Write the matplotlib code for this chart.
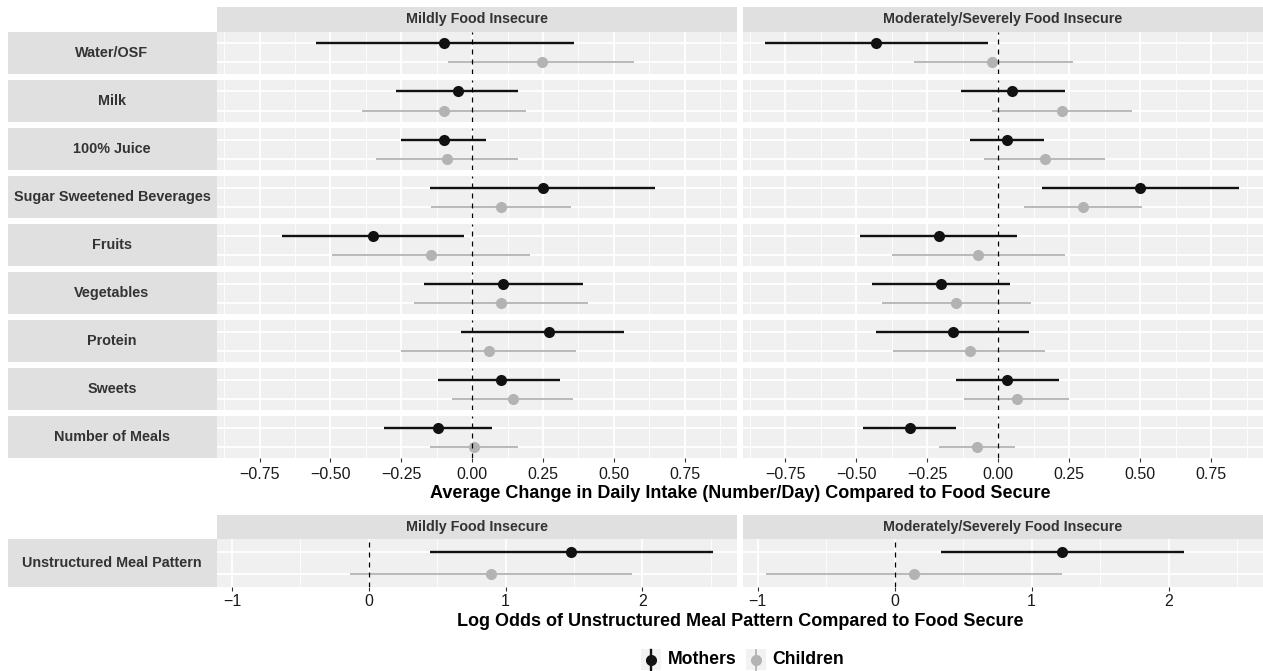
import numpy as np
import matplotlib.pyplot as plt
from matplotlib.patches import Rectangle

plt.rcParams['font.family'] = ['Liberation Sans', 'DejaVu Sans']

# data
foods = ['Water/OSF', 'Milk', '100% Juice', 'Sugar Sweetened Beverages', 'Fruits',
         'Vegetables', 'Protein', 'Sweets', 'Number of Meals']
groups = ['Mildly Food Insecure', 'Moderately/Severely Food Insecure']
who = ['Mothers', 'Children']

mild_mothers_est = [-0.10, -0.05, -0.10, 0.25, -0.35, 0.11, 0.27, 0.10, -0.12]
mild_mothers_lo = [-0.55, -0.27, -0.25, -0.15, -0.67, -0.17, -0.04, -0.12, -0.31]
mild_mothers_hi = [0.36, 0.16, 0.05, 0.645, -0.03, 0.39, 0.535, 0.31, 0.07]
mild_children_est = [0.245, -0.10, -0.09, 0.10, -0.145, 0.10, 0.06, 0.145, 0.005]
mild_children_lo = [-0.085, -0.39, -0.34, -0.145, -0.495, -0.205, -0.25, -0.07, -0.15]
mild_children_hi = [0.57, 0.19, 0.16, 0.35, 0.205, 0.41, 0.365, 0.355, 0.16]

sev_mothers_est = [-0.43, 0.05, 0.03, 0.50, -0.21, -0.20, -0.16, 0.03, -0.31]
sev_mothers_lo = [-0.82, -0.13, -0.10, 0.155, -0.485, -0.445, -0.43, -0.15, -0.475]
sev_mothers_hi = [-0.035, 0.235, 0.16, 0.85, 0.065, 0.04, 0.11, 0.215, -0.15]
sev_children_est = [-0.02, 0.225, 0.165, 0.30, -0.07, -0.15, -0.10, 0.065, -0.075]
sev_children_lo = [-0.295, -0.02, -0.05, 0.09, -0.375, -0.41, -0.37, -0.12, -0.21]
sev_children_hi = [0.265, 0.47, 0.375, 0.505, 0.235, 0.115, 0.165, 0.25, 0.06]

meal_label = 'Unstructured Meal Pattern'
meal_mothers_est = [1.48, 1.225]
meal_mothers_lo = [0.45, 0.335]
meal_mothers_hi = [2.52, 2.115]
meal_children_est = [0.895, 0.14]
meal_children_lo = [-0.135, -0.94]
meal_children_hi = [1.925, 1.22]

top_ticks = [-0.75, -0.50, -0.25, 0.00, 0.25, 0.50, 0.75]
top_minor = [-0.875, -0.625, -0.375, -0.125, 0.125, 0.375, 0.625, 0.875]
bot_ticks = [-1, 0, 1, 2]
bot_minor = [-0.5, 0.5, 1.5, 2.5]

# style
W, H = 1263, 671
PANEL = '#F0F0F0'
STRIP = '#E0E0E0'
COLS = {'Mothers': '#111111', 'Children': '#B3B3B3'}
LW = {'Mothers': 1.7, 'Children': 1.3}

fig = plt.figure(figsize=(W / 100, H / 100), dpi=100)
over = fig.add_axes([0, 0, 1, 1])
over.set_xlim(0, W)
over.set_ylim(H, 0)
over.axis('off')


def box(x0, y0, x1, y1):
    return [x0 / W, 1 - y1 / H, (x1 - x0) / W, (y1 - y0) / H]


def panel(rect, xlim, ticks, minor, m, c, show_ticks, pad=3.5):
    ax = fig.add_axes(box(*rect))
    ax.set_facecolor(PANEL)
    for s in ax.spines.values():
        s.set_visible(False)
    ax.set_xlim(*xlim)
    ax.set_ylim(0.4, 2.6)
    ax.set_xticks(ticks)
    ax.set_xticks(minor, minor=True)
    ax.set_yticks([1, 2])
    ax.grid(True, which='major', color='white', lw=1.3)
    ax.grid(True, which='minor', axis='x', color='white', lw=0.6)
    ax.set_axisbelow(True)
    ax.tick_params(axis='y', length=0, labelleft=False)
    ax.tick_params(axis='x', which='minor', length=0)
    if show_ticks:
        ax.tick_params(axis='x', which='major', length=3, width=0.8, color='#333333',
                       labelsize=11.5, labelcolor='#1a1a1a', pad=pad)
    else:
        ax.tick_params(axis='x', which='major', length=0, labelbottom=False)
    for name, (est, lo, hi), yy in [('Mothers', m, 2), ('Children', c, 1)]:
        ax.plot([lo, hi], [yy, yy], color=COLS[name], lw=LW[name], solid_capstyle='butt', zorder=2)
        ax.plot([est], [yy], 'o', color=COLS[name], ms=8, mec='none', zorder=3)
    ax.axvline(0, color='black', lw=0.9, ls=(0, (4, 4)), zorder=4)
    return ax


cols_x = [(217, 736.7), (742.7, 1263)]
top_data = [
    (mild_mothers_est, mild_mothers_lo, mild_mothers_hi,
     mild_children_est, mild_children_lo, mild_children_hi),
    (sev_mothers_est, sev_mothers_lo, sev_mothers_hi,
     sev_children_est, sev_children_lo, sev_children_hi),
]
top_xlim = (-0.90, 0.933)
bot_xlim = (-1.11, 2.69)

# column strips (top block)
for j, (x0, x1) in enumerate(cols_x):
    over.add_patch(Rectangle((x0, 7), x1 - x0, 25, color=STRIP, lw=0))
    over.text((x0 + x1) / 2, 19.5, groups[j], ha='center', va='center',
              fontsize=10.3, fontweight='bold', color='#333333')

pitch, rh = 48.05, 41.9
for i, food in enumerate(foods):
    y0 = 32 + i * pitch
    over.add_patch(Rectangle((8, y0), 217 - 8, rh, color=STRIP, lw=0))
    over.text(112, y0 + rh / 2, food, ha='center', va='center',
              fontsize=10.4, fontweight='bold', color='#333333')
    for j, (x0, x1) in enumerate(cols_x):
        d = top_data[j]
        panel((x0, y0, x1, y0 + rh), top_xlim, top_ticks, top_minor,
              (d[0][i], d[1][i], d[2][i]), (d[3][i], d[4][i], d[5][i]),
              i == len(foods) - 1)

over.text(740, 494, 'Average Change in Daily Intake (Number/Day) Compared to Food Secure',
          ha='center', va='center', fontsize=13, fontweight='bold', color='black')

# bottom block
for j, (x0, x1) in enumerate(cols_x):
    over.add_patch(Rectangle((x0, 515), x1 - x0, 24, color=STRIP, lw=0))
    over.text((x0 + x1) / 2, 527, groups[j], ha='center', va='center',
              fontsize=10.3, fontweight='bold', color='#333333')
    panel((x0, 539, x1, 587), bot_xlim, bot_ticks, bot_minor,
          (meal_mothers_est[j], meal_mothers_lo[j], meal_mothers_hi[j]),
          (meal_children_est[j], meal_children_lo[j], meal_children_hi[j]), True, pad=2)
over.add_patch(Rectangle((8, 539), 217 - 8, 48, color=STRIP, lw=0))
over.text(112, 563, meal_label, ha='center', va='center',
          fontsize=10.4, fontweight='bold', color='#333333')

over.text(740, 621, 'Log Odds of Unstructured Meal Pattern Compared to Food Secure',
          ha='center', va='center', fontsize=13, fontweight='bold', color='black')

# legend
for name, kx, tx in [('Mothers', 651, 668), ('Children', 755.5, 772)]:
    over.add_patch(Rectangle((kx - 10, 649), 20, 21, color='#F2F2F2', lw=0))
    over.plot([kx, kx], [650, 670], color=COLS[name], lw=LW[name])
    over.plot([kx], [660], 'o', color=COLS[name], ms=8, mec='none')
    over.text(tx, 660, name, ha='left', va='center', fontsize=12.7,
              fontweight='bold', color='black')

fig.savefig('out.png', dpi=100)
